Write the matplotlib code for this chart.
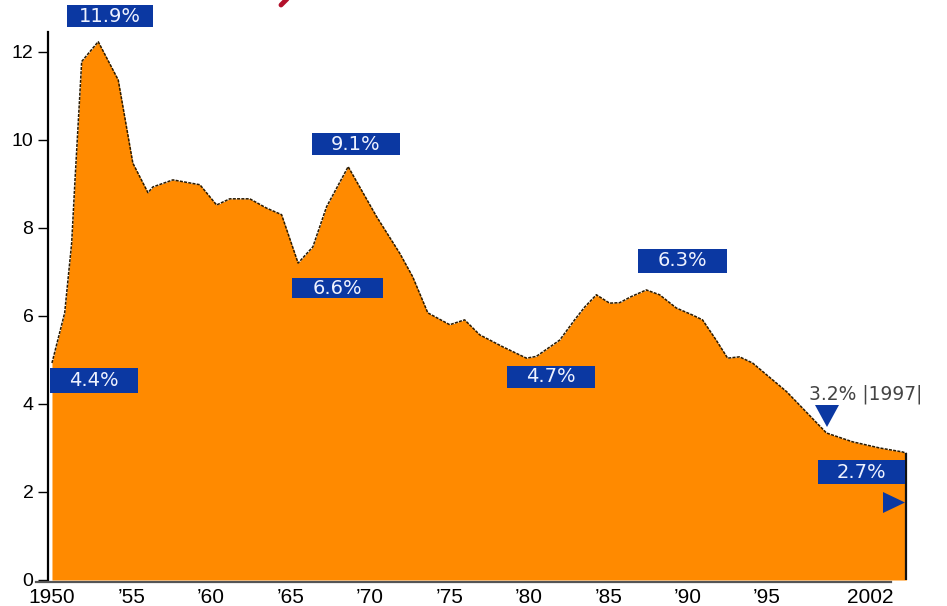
import matplotlib
matplotlib.use("Agg")
import matplotlib.pyplot as plt
from matplotlib.patches import Rectangle, Polygon
from matplotlib.lines import Line2D

# ==========================================
# DATA
# ==========================================
years = [1950.0, 1950.8, 1951.24, 1951.45, 1951.87, 1952.91, 1954.17, 1955.09,
         1956.04, 1956.35, 1957.61, 1959.31, 1960.36, 1961.19, 1962.45, 1963.5,
         1964.45, 1965.49, 1966.42, 1967.28, 1968.64, 1970.42, 1971.89, 1972.7,
         1973.65, 1975.03, 1975.97, 1976.92, 1978.36, 1979.86, 1980.48, 1981.95,
         1982.89, 1983.52, 1984.26, 1985.09, 1985.72, 1986.46, 1987.4, 1988.24,
         1989.29, 1990.31, 1990.94, 1991.8, 1992.52, 1993.27, 1994.09, 1996.23,
         1998.74, 2000.38, 2002.08, 2003.52, 2003.77]
values = [4.93, 6.07, 7.66, 9.09, 11.78, 12.23, 11.36, 9.47,
          8.8, 8.93, 9.09, 8.98, 8.52, 8.66, 8.66, 8.45,
          8.3, 7.2, 7.57, 8.48, 9.39, 8.26, 7.42, 6.89,
          6.07, 5.8, 5.91, 5.57, 5.3, 5.04, 5.08, 5.45,
          5.91, 6.2, 6.48, 6.29, 6.3, 6.44, 6.59, 6.48,
          6.18, 6.02, 5.91, 5.45, 5.04, 5.07, 4.93, 4.28,
          3.34, 3.14, 3.0, 2.91, 2.88]

xtick_pos = [1950, 1955, 1960, 1965, 1970, 1975, 1980, 1985, 1990, 1995, 2001.5]
xtick_lbl = ["1950", "’55", "’60", "’65", "’70", "’75", "’80", "’85", "’90", "’95", "2002"]
ytick_pos = [0, 2, 4, 6, 8, 10, 12]

# callout boxes: (left, top, right, bottom) in pixels, text
callouts = [
    ((67, 5, 153, 27), "11.9%"),
    ((50, 368, 138, 393), "4.4%"),
    ((312, 133, 400, 155), "9.1%"),
    ((292, 278, 383, 298), "6.6%"),
    ((507, 366, 595, 388), "4.7%"),
    ((638, 249, 727, 273), "6.3%"),
    ((818, 460, 905, 484), "2.7%"),
]

W, H = 947, 606
ORANGE = "#ff8a00"
BLUE = "#0b38a2"


def fx(px):
    return px / W


def fy(py):
    return 1 - py / H


# ==========================================
# PLOT
# ==========================================
plt.rcParams["font.family"] = ["Liberation Sans", "DejaVu Sans"]
fig = plt.figure(figsize=(W / 100, H / 100), dpi=100)
ax = fig.add_axes([fx(48), fy(580), fx(918) - fx(48), fy(32) - fy(580)])
ax.set_xlim(1949.75, 2004.5)
ax.set_ylim(0, 12.45)

ax.fill_between(years, values, 0, color=ORANGE, linewidth=0, zorder=1)
ax.plot(years, values, color="#2a1a00", lw=1.1, linestyle=(0, (2, 0.8)), zorder=2)
ax.vlines(years[-1], 0, values[-1], color="#111111", lw=1.6, zorder=2)

for s in ["top", "right"]:
    ax.spines[s].set_visible(False)
ax.spines["left"].set_linewidth(1.6)
ax.spines["left"].set_color("#000000")
ax.spines["bottom"].set_position(("outward", 1.5))
ax.spines["bottom"].set_bounds(1949.0, 2002.8)
ax.spines["bottom"].set_color("#555555")
ax.spines["bottom"].set_linewidth(1.6)

ax.set_yticks(ytick_pos)
ax.tick_params(axis="y", direction="out", length=7, width=1, pad=3.5,
               labelsize=14, colors="#000000")
ax.set_xticks(xtick_pos)
ax.set_xticklabels(xtick_lbl)
ax.tick_params(axis="x", length=0, pad=4, labelsize=15)

# callout boxes
for (l, t, r, b), txt in callouts:
    fig.patches.append(Rectangle((fx(l), fy(b)), fx(r) - fx(l), fy(t) - fy(b),
                                 transform=fig.transFigure, facecolor=BLUE,
                                 edgecolor="none", zorder=5))
    fig.text(fx((l + r) / 2), fy((t + b) / 2), txt, ha="center", va="center",
             color="#eef2ff", fontsize=14, family="DejaVu Sans", zorder=6)

# 1997 marker
fig.text(fx(866), fy(394), "3.2% |1997|", ha="center", va="center",
         color="#444444", fontsize=13.5, family="DejaVu Sans")
fig.patches.append(Polygon([(fx(815), fy(405)), (fx(839), fy(405)), (fx(827), fy(427))],
                           closed=True, transform=fig.transFigure, facecolor=BLUE,
                           edgecolor="none", zorder=5))
fig.patches.append(Polygon([(fx(883), fy(492)), (fx(883), fy(513)), (fx(905), fy(502.5))],
                           closed=True, transform=fig.transFigure, facecolor=BLUE,
                           edgecolor="none", zorder=5))

# tail of the cut-off title at the very top edge
fig.lines.append(Line2D([fx(287), fx(281)], [fy(-1), fy(5)], transform=fig.transFigure,
                        color="#b3102b", lw=3.5, solid_capstyle="round"))

fig.savefig("out.png", dpi=100)
